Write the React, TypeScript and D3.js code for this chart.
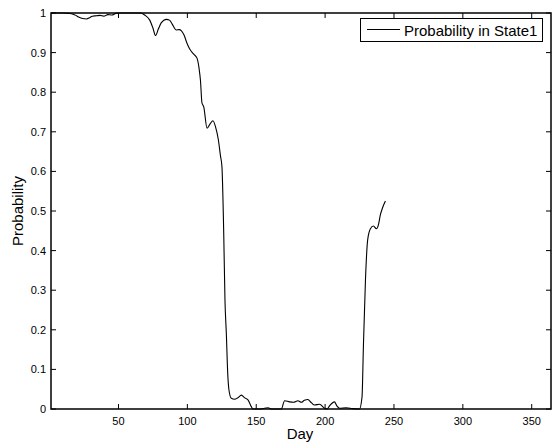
import React from 'react';
import * as d3 from 'd3';

const days = [
  1, 10, 14, 17, 19, 21, 24, 26.8, 29, 31, 34, 36.5, 39.4, 42.3, 45.2, 48, 50, 60, 66,
  69, 72.7, 75, 76.9, 79, 81, 84.8, 87, 89, 92, 94, 95.7, 97.5, 99.8, 101.7, 104.6, 107,
  108.5, 109.5, 110.6, 111.9, 114.3, 116.5, 118.6, 120.5, 122.5, 124, 125.1, 126.4, 127.3,
  128.3, 129.3, 130.2, 131.9, 134.3, 136.7, 139.2, 141.6, 144, 146.4, 147.6, 153.7, 156,
  158.5, 161.6, 168.2, 170.6, 174.2, 177.1, 180.3, 182.7, 185, 187.5, 190, 192.3, 196,
  199.6, 201.5, 203.2, 206.8, 208.5, 210.5, 215.3, 220, 224.9, 226.8, 227.8, 229.3, 230.9,
  232.9, 235.1, 237.2, 238.7, 240.1, 241.6, 243.8,
];
const probs = [
  1, 1, 0.999, 0.997, 0.994, 0.99, 0.986, 0.985, 0.988, 0.992, 0.993, 0.994, 0.992, 0.996, 0.995, 0.999, 1, 1, 1,
  0.995, 0.982, 0.962, 0.943, 0.96, 0.975, 0.984, 0.982, 0.972, 0.957, 0.958, 0.955, 0.945, 0.923, 0.909, 0.896, 0.886,
  0.86, 0.83, 0.773, 0.763, 0.709, 0.72, 0.728, 0.712, 0.68, 0.64, 0.612, 0.444, 0.275,
  0.19, 0.09, 0.048, 0.027, 0.0245, 0.0285, 0.035, 0.028, 0.023, 0.006, 0, 0, 0.002,
  0.003, 0, 0, 0.021, 0.018, 0.017, 0.021, 0.017, 0.022, 0.024, 0.016, 0.01, 0.012,
  0.002, 0, 0.008, 0.018, 0.008, 0.002, 0.003, 0.001, 0, 0.03, 0.157, 0.326, 0.427,
  0.455, 0.462, 0.455, 0.465, 0.49, 0.507, 0.525,
];
const xTicks = [50, 100, 150, 200, 250, 300, 350];
const yTicks = [0, 0.1, 0.2, 0.3, 0.4, 0.5, 0.6, 0.7, 0.8, 0.9, 1];
const yTickLabels = ['0', '0.1', '0.2', '0.3', '0.4', '0.5', '0.6', '0.7', '0.8', '0.9', '1'];
const xLabel = 'Day';
const yLabel = 'Probability';
const legendLabel = 'Probability in State1';

export default function App() {
  const W = 553, H = 443;
  const left = 51, right = 551, top = 13, bottom = 409;
  const x = d3.scaleLinear().domain([1, 364]).range([left, right]);
  const y = d3.scaleLinear().domain([0, 1]).range([bottom, top]);
  const line = d3
    .line<number>()
    .x((_, i) => x(days[i]))
    .y((d) => y(d))
    .curve(d3.curveMonotoneX);
  const tl = 5;
  const font = 'Liberation Sans, Arial, Helvetica, sans-serif';
  return (
    <svg width={W} height={H} style={{ position: 'absolute', left: 0, top: 0, background: '#fff' }}>
      <rect x={0} y={0} width={W} height={H} fill="#fff" />
      <path d={line(probs) || ''} fill="none" stroke="#000" strokeWidth={1.1} />
      <rect x={left} y={top} width={right - left} height={bottom - top} fill="none" stroke="#000" strokeWidth={1.5} />
      {xTicks.map((t) => (
        <g key={'x' + t}>
          <line x1={x(t)} x2={x(t)} y1={bottom} y2={bottom - tl} stroke="#000" strokeWidth={1} />
          <line x1={x(t)} x2={x(t)} y1={top} y2={top + tl} stroke="#000" strokeWidth={1} />
          <text x={x(t)} y={425} textAnchor="middle" fontFamily={font} fontSize={11} fill="#000">{t}</text>
        </g>
      ))}
      {yTicks.map((t, i) => (
        <g key={'y' + t}>
          <line x1={left} x2={left + tl} y1={y(t)} y2={y(t)} stroke="#000" strokeWidth={1} />
          <line x1={right} x2={right - tl} y1={y(t)} y2={y(t)} stroke="#000" strokeWidth={1} />
          <text x={46} y={y(t) + 4} textAnchor="end" fontFamily={font} fontSize={11} fill="#000">{yTickLabels[i]}</text>
        </g>
      ))}
      <text x={300} y={439} textAnchor="middle" fontFamily={font} fontSize={15} fill="#000">{xLabel}</text>
      <text transform={`translate(23, ${(top + bottom) / 2}) rotate(-90)`} textAnchor="middle" fontFamily={font} fontSize={15} fill="#000">{yLabel}</text>
      <g>
        <rect x={360.5} y={18.5} width={182} height={23} fill="#fff" stroke="#000" strokeWidth={1} />
        <line x1={367} x2={400} y1={29.5} y2={29.5} stroke="#000" strokeWidth={1} />
        <text x={404} y={35.5} fontFamily={font} fontSize={15} fill="#000">{legendLabel}</text>
      </g>
    </svg>
  );
}
